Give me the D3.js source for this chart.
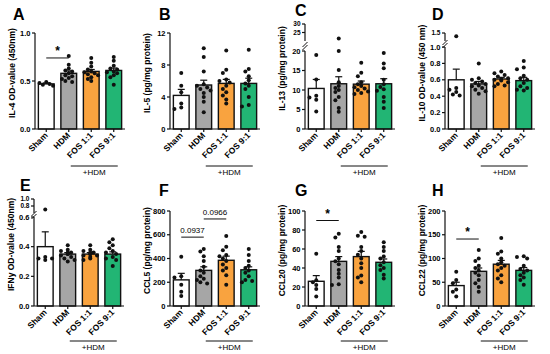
<!DOCTYPE html>
<html>
<head>
<meta charset="utf-8">
<script src="https://cdn.jsdelivr.net/npm/d3@7/dist/d3.min.js"></script>
<style>
  body { margin: 0; background: #fff; }
  svg { display: block; font-family: "Liberation Sans", Arial, sans-serif; }
</style>
</head>
<body>
<div id="chart"></div>
<script>
// groups shared by every panel
const groups = ['Sham', 'HDM', 'FOS 1:1', 'FOS 9:1'];
const groupColors = ['#ffffff', '#a6a6a6', '#f9a33f', '#22b574'];

// A - IL-4
const aPts = [
  [0.49, 0.48, 0.47, 0.46, 0.45],
  [0.76, 0.67, 0.63, 0.61, 0.6, 0.58, 0.56, 0.55, 0.53, 0.52, 0.5, 0.49],
  [0.74, 0.69, 0.65, 0.62, 0.6, 0.59, 0.58, 0.57, 0.56, 0.54, 0.52, 0.5],
  [0.75, 0.71, 0.66, 0.63, 0.62, 0.6, 0.59, 0.58, 0.56, 0.54, 0.46]
];
const aMean = [0.47, 0.58, 0.6, 0.61];
const aSem = [0.01, 0.025, 0.02, 0.025];

// B - IL-5
const bPts = [
  [7.0, 5.4, 4.6, 3.2, 2.5, 2.7],
  [10.1, 9.0, 7.2, 5.6, 5.4, 5.2, 5.0, 4.8, 4.5, 4.0, 3.4, 2.1],
  [9.8, 7.4, 7.0, 6.2, 6.0, 5.8, 5.4, 5.0, 4.6, 4.2, 3.7, 3.2],
  [9.9, 7.5, 7.2, 6.6, 6.1, 5.7, 5.4, 5.0, 4.0, 3.0, 2.8]
];
const bMean = [4.2, 5.5, 5.7, 5.7];
const bSem = [0.75, 0.6, 0.5, 0.65];

// C - IL-13
const cPts = [
  [19, 12.7, 8.5, 8.1, 7.5, 4.5],
  [21.5, 20, 15.1, 12, 11, 10.5, 10, 9.5, 8.2, 7.4, 5.4, 4.4],
  [17, 14.4, 13.5, 12, 11.5, 11, 10.7, 10.4, 10, 9.6, 9.2, 9.0],
  [19.5, 16.8, 15.6, 12.6, 11.5, 10.8, 10.2, 9.8, 8.2, 7.0, 5.4]
];
const cMean = [10.4, 11.6, 11.5, 11.6];
const cSem = [2.3, 1.8, 0.8, 1.3];

// D - IL-10
const dPts = [
  [1.3, 0.5, 0.48, 0.45, 0.42, 0.41],
  [0.8, 0.62, 0.6, 0.58, 0.56, 0.55, 0.53, 0.52, 0.5, 0.48, 0.46, 0.43],
  [0.7, 0.68, 0.66, 0.64, 0.62, 0.61, 0.6, 0.59, 0.57, 0.55, 0.53, 0.52],
  [0.83, 0.75, 0.73, 0.65, 0.62, 0.6, 0.56, 0.52, 0.5, 0.48, 0.47]
];
const dMean = [0.6, 0.55, 0.61, 0.59];
const dSem = [0.13, 0.03, 0.02, 0.04];

// E - IFNy
const ePts = [
  [0.7, 0.33, 0.32, 0.32, 0.31],
  [0.41, 0.38, 0.37, 0.36, 0.36, 0.35, 0.35, 0.34, 0.33, 0.32, 0.31, 0.3],
  [0.41, 0.38, 0.37, 0.36, 0.36, 0.35, 0.35, 0.34, 0.34, 0.33, 0.32, 0.31],
  [0.45, 0.43, 0.41, 0.39, 0.37, 0.36, 0.35, 0.33, 0.32, 0.31, 0.27]
];
const eMean = [0.4, 0.35, 0.35, 0.35];
const eSem = [0.1, 0.01, 0.01, 0.015];

// F - CCL5
const fPts = [
  [415, 250, 240, 180, 120, 85],
  [480, 460, 420, 380, 330, 300, 280, 250, 230, 220, 200, 190],
  [590, 500, 470, 430, 420, 400, 380, 350, 320, 300, 260, 180],
  [480, 430, 380, 340, 320, 300, 280, 250, 220, 210, 200]
];
const fMean = [220, 300, 385, 305];
const fSem = [55, 30, 35, 25];

// G - CCL20
const gPts = [
  [55, 27, 25, 22, 18, 10],
  [76, 72, 62, 58, 50, 47, 44, 38, 34, 30, 23, 22],
  [78, 74, 73, 62, 58, 54, 50, 45, 40, 32, 30, 25],
  [67, 62, 58, 52, 50, 46, 43, 40, 38, 33, 29]
];
const gMean = [26, 47, 52, 46];
const gSem = [6, 5, 5.5, 3.5];

// H - CCL22
const hPts = [
  [72, 55, 48, 35, 30, 20],
  [118, 100, 95, 85, 80, 75, 70, 65, 55, 48, 40, 30],
  [143, 115, 110, 100, 92, 88, 85, 80, 75, 65, 58, 50],
  [105, 103, 100, 85, 78, 75, 70, 65, 60, 55, 45]
];
const hMean = [43, 73, 88, 75];
const hSem = [7, 7, 8, 6];

// y-axis tick labels per panel
const aTicks = [0, 0.5, 1.0];
const bTicks = [0, 4, 8, 12];
const cTicks = [0, 5, 10, 15, 20, 25, 30];
const dTicks = [0, 0.2, 0.4, 0.6, 0.8, 1.0, 1.5];
const eTicks = [0, 0.2, 0.4, 0.6, 0.8, 1.0];
const fTicks = [0, 200, 400, 600, 800];
const gTicks = [0, 20, 40, 60, 80, 100];
const hTicks = [0, 50, 100, 150, 200];

// significance brackets: [from group, to group, label, value level]
const aSig = [[0, 1, '*', 0.74]];
const fSig = [[0, 1, '0.0937', 580], [1, 2, '0.0966', 733]];
const gSig = [[0, 1, '*', 90]];
const hSig = [[0, 1, '*', 141]];

const width = 550, height = 354;
const svg = d3.select('#chart').append('svg')
  .attr('width', width)
  .attr('height', height);

// layout of each panel (axis x, baseline and top of the plot)
const panels = [
  { id: 'A', ax: 35, y0: 129, lx: 13, ly: 20, title: 'IL-4 OD-value (450nm)', pts: aPts, mean: aMean, sem: aSem, ticks: aTicks, fmt: '.1f',
    lower: { domain: [0, 1], range: [129, 33] }, sig: aSig, hdm: 37 },
  { id: 'B', ax: 170, y0: 129, lx: 159, ly: 20, title: 'IL-5 (pg/mg protein)', pts: bPts, mean: bMean, sem: bSem, ticks: bTicks, fmt: 'd',
    lower: { domain: [0, 12], range: [129, 33] }, sig: [], hdm: 37 },
  { id: 'C', ax: 305, y0: 129, lx: 295, ly: 16, title: 'IL-13 (pg/mg protein)', pts: cPts, mean: cMean, sem: cSem, ticks: cTicks, fmt: 'd',
    lower: { domain: [0, 20], range: [129, 51] }, upper: { domain: [20, 30], range: [41, 24] }, sig: [], hdm: 37 },
  { id: 'D', ax: 445, y0: 129, lx: 432, ly: 20, title: 'IL-10 OD-value (450 nm)', pts: dPts, mean: dMean, sem: dSem, ticks: dTicks, fmt: '.1f',
    lower: { domain: [0, 1.0], range: [129, 47] }, upper: { domain: [1.0, 1.5], range: [41, 33] }, sig: [], hdm: 37 },
  { id: 'E', ax: 34, y0: 306, lx: 20, ly: 191, title: 'IFNy OD-value (450nm)', pts: ePts, mean: eMean, sem: eSem, ticks: eTicks, fmt: '.1f',
    lower: { domain: [0, 0.6], range: [306, 217] }, upper: { domain: [0.6, 1.0], range: [213, 199] }, sig: [], hdm: 35 },
  { id: 'F', ax: 170, y0: 306, lx: 159, ly: 196, title: 'CCL5 (pg/mg protein)', pts: fPts, mean: fMean, sem: fSem, ticks: fTicks, fmt: 'd',
    lower: { domain: [0, 800], range: [306, 211] }, sig: fSig, hdm: 35 },
  { id: 'G', ax: 305, y0: 306, lx: 295, ly: 196, title: 'CCL20 (pg/mg protein)', pts: gPts, mean: gMean, sem: gSem, ticks: gTicks, fmt: 'd',
    lower: { domain: [0, 100], range: [306, 211] }, sig: gSig, hdm: 35 },
  { id: 'H', ax: 445, y0: 306, lx: 432, ly: 196, title: 'CCL22 (pg/mg protein)', pts: hPts, mean: hMean, sem: hSem, ticks: hTicks, fmt: 'd',
    lower: { domain: [0, 200], range: [306, 211] }, sig: hSig, hdm: 35 }
];

const dotR = 2;

// simple swarm so the dots do not sit on top of each other
function swarm(values, y, cx, maxOff) {
  const placed = [];
  const sorted = values.slice().sort((a, b) => b - a);
  sorted.forEach(v => {
    const py = y(v);
    const cands = [0];
    for (let k = 1; k <= 4; k++) { cands.push(-k * 3.4, k * 3.4); }
    let px = cx;
    for (const off of cands) {
      if (Math.abs(off) > maxOff) continue;
      const ok = placed.every(p => Math.hypot(p.x - (cx + off), p.y - py) >= dotR * 1.9);
      if (ok) { px = cx + off; break; }
    }
    placed.push({ x: px, y: py });
  });
  return placed;
}

panels.forEach(p => {
  const g = svg.append('g');
  const lo = d3.scaleLinear().domain(p.lower.domain).range(p.lower.range);
  const up = p.upper ? d3.scaleLinear().domain(p.upper.domain).range(p.upper.range) : null;
  const y = v => (up && v > p.lower.domain[1]) ? up(v) : lo(v);
  const x = d3.scaleBand().domain(groups).range([p.ax, p.ax + 90])
    .paddingInner(0.3).paddingOuter(0.15);
  const cxOf = i => x(groups[i]) + x.bandwidth() / 2;

  // bars
  g.selectAll('rect.bar').data(p.mean).join('rect')
    .attr('x', (d, i) => x(groups[i]))
    .attr('y', d => y(d))
    .attr('width', x.bandwidth())
    .attr('height', d => p.y0 - y(d))
    .attr('fill', (d, i) => groupColors[i])
    .attr('stroke', '#111')
    .attr('stroke-width', 1.4);

  // SEM error bars (upper half only)
  p.mean.forEach((m, i) => {
    const cx = cxOf(i);
    g.append('line').attr('x1', cx).attr('x2', cx)
      .attr('y1', y(m)).attr('y2', y(m + p.sem[i]))
      .attr('stroke', '#111').attr('stroke-width', 1.2);
    g.append('line').attr('x1', cx - 3.5).attr('x2', cx + 3.5)
      .attr('y1', y(m + p.sem[i])).attr('y2', y(m + p.sem[i]))
      .attr('stroke', '#111').attr('stroke-width', 1.2);
  });

  // individual points
  p.pts.forEach((vals, i) => {
    const spots = swarm(vals, y, cxOf(i), x.bandwidth() / 2 - 1);
    g.selectAll(null).data(spots).join('circle')
      .attr('cx', d => d.x).attr('cy', d => d.y).attr('r', dotR)
      .attr('fill', '#111');
  });

  // y axis (broken when an upper segment exists)
  const axisLines = [[p.lower.range[0], p.lower.range[1]]];
  if (up) axisLines.push([p.upper.range[0], p.upper.range[1]]);
  axisLines.forEach(([a, b]) => {
    g.append('line').attr('x1', p.ax).attr('x2', p.ax).attr('y1', a).attr('y2', b)
      .attr('stroke', '#111').attr('stroke-width', 1.2);
  });
  if (up) {
    const mid = (p.lower.range[1] + p.upper.range[0]) / 2;
    [-1.5, 1.5].forEach(dy => {
      g.append('line').attr('x1', p.ax - 2.5).attr('x2', p.ax + 2.5)
        .attr('y1', mid + dy + 2.5).attr('y2', mid + dy - 2.5)
        .attr('stroke', '#111').attr('stroke-width', 1);
    });
  }
  const fmt = d3.format(p.fmt);
  p.ticks.forEach(t => {
    const ty = y(t);
    const small = up && t > p.lower.domain[1];
    g.append('line').attr('x1', p.ax - 3).attr('x2', p.ax).attr('y1', ty).attr('y2', ty)
      .attr('stroke', '#111').attr('stroke-width', 1.2);
    g.append('text').attr('x', p.ax - 4.5).attr('y', ty).attr('dy', '0.35em')
      .attr('text-anchor', 'end').attr('font-size', small ? 6.5 : 7.5).attr('font-weight', 'bold')
      .text(fmt(t));
  });

  // x axis
  g.append('line').attr('x1', p.ax).attr('x2', p.ax + 90).attr('y1', p.y0).attr('y2', p.y0)
    .attr('stroke', '#111').attr('stroke-width', 1.2);
  groups.forEach((name, i) => {
    const cx = cxOf(i);
    g.append('line').attr('x1', cx).attr('x2', cx).attr('y1', p.y0).attr('y2', p.y0 + 3)
      .attr('stroke', '#111').attr('stroke-width', 1.2);
    g.append('text')
      .attr('transform', `translate(${cx + 2},${p.y0 + 7}) rotate(-45)`)
      .attr('text-anchor', 'end').attr('font-size', 8.5).attr('font-weight', 'bold')
      .text(name);
  });

  // +HDM bracket
  const hy = p.y0 + p.hdm;
  g.append('line').attr('x1', cxOf(1) + 2).attr('x2', cxOf(3) + 4).attr('y1', hy).attr('y2', hy)
    .attr('stroke', '#111').attr('stroke-width', 1);
  g.append('text').attr('x', (cxOf(1) + cxOf(3)) / 2 + 3).attr('y', hy + 9)
    .attr('text-anchor', 'middle').attr('font-size', 8).text('+HDM');

  // significance
  p.sig.forEach(([a, b, label, lvl]) => {
    const sy = y(lvl);
    g.append('line').attr('x1', cxOf(a)).attr('x2', cxOf(b)).attr('y1', sy).attr('y2', sy)
      .attr('stroke', '#111').attr('stroke-width', 1);
    g.append('text').attr('x', (cxOf(a) + cxOf(b)) / 2)
      .attr('y', label === '*' ? sy - 3 : sy - 4)
      .attr('text-anchor', 'middle')
      .attr('font-size', label === '*' ? 12 : 8)
      .attr('font-weight', label === '*' ? 'bold' : 'normal')
      .text(label);
  });

  // y title
  const midY = (p.lower.range[0] + (up ? p.upper.range[1] : p.lower.range[1])) / 2 - 8;
  g.append('text')
    .attr('transform', `translate(${p.ax - 20},${midY}) rotate(-90)`)
    .attr('text-anchor', 'middle').attr('font-size', 8.5).attr('font-weight', 'bold')
    .text(p.title);

  // panel letter
  g.append('text').attr('x', p.lx).attr('y', p.ly)
    .attr('font-size', 16).attr('font-weight', 'bold').text(p.id);
});
</script>
</body>
</html>
